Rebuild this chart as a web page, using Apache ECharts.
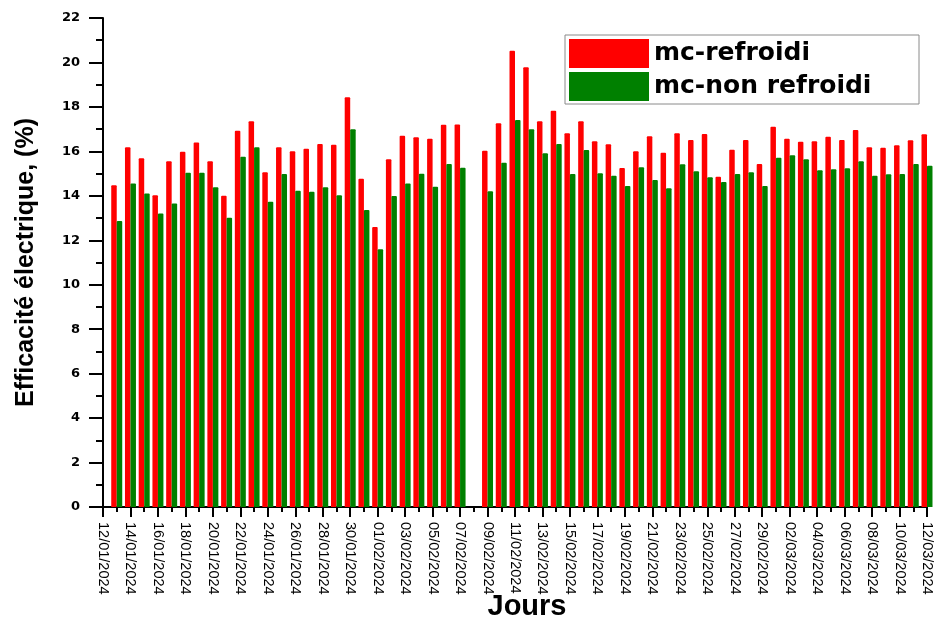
<!DOCTYPE html>
<html>
<head>
<meta charset="utf-8">
<script src="https://cdn.jsdelivr.net/npm/echarts@6/dist/echarts.min.js"></script>
<style>
  html, body { margin: 0; padding: 0; background: #ffffff; }
  #chart { width: 936px; height: 618px; }
</style>
</head>
<body>
<div id="chart"></div>
<script>
// Daily dates (12/01/2024 to 12/03/2024)
const days = [
  '12/01/2024','13/01/2024','14/01/2024','15/01/2024','16/01/2024','17/01/2024','18/01/2024','19/01/2024','20/01/2024','21/01/2024',
  '22/01/2024','23/01/2024','24/01/2024','25/01/2024','26/01/2024','27/01/2024','28/01/2024','29/01/2024','30/01/2024','31/01/2024',
  '01/02/2024','02/02/2024','03/02/2024','04/02/2024','05/02/2024','06/02/2024','07/02/2024','08/02/2024','09/02/2024','10/02/2024',
  '11/02/2024','12/02/2024','13/02/2024','14/02/2024','15/02/2024','16/02/2024','17/02/2024','18/02/2024','19/02/2024','20/02/2024',
  '21/02/2024','22/02/2024','23/02/2024','24/02/2024','25/02/2024','26/02/2024','27/02/2024','28/02/2024','29/02/2024',
  '01/03/2024','02/03/2024','03/03/2024','04/03/2024','05/03/2024','06/03/2024','07/03/2024','08/03/2024','09/03/2024','10/03/2024',
  '11/03/2024','12/03/2024'
];

// Electrical efficiency (%) of the cooled module
const mcRefroidi = [
  null, 14.47, 16.18, 15.69, 14.02, 15.56, 15.98, 16.40, 15.55, 14.00,
  16.93, 17.35, 15.06, 16.19, 16.01, 16.12, 16.33, 16.30, 18.44, 14.77,
  12.60, 15.65, 16.70, 16.63, 16.57, 17.20, 17.21, null, 16.03, 17.27,
  20.53, 19.78, 17.36, 17.83, 16.82, 17.36, 16.46, 16.32, 15.25, 16.01,
  16.68, 15.94, 16.81, 16.51, 16.78, 14.86, 16.07, 16.51, 15.43,
  17.11, 16.57, 16.43, 16.46, 16.66, 16.51, 16.96, 16.19, 16.16, 16.28,
  16.50, 16.77
];

// Electrical efficiency (%) of the uncooled module
const mcNonRefroidi = [
  null, 12.87, 14.55, 14.10, 13.20, 13.66, 15.04, 15.04, 14.38, 13.01,
  15.76, 16.18, 13.73, 14.98, 14.23, 14.18, 14.39, 14.02, 16.99, 13.36,
  11.60, 13.99, 14.55, 14.99, 14.41, 15.43, 15.26, null, 14.21, 15.49,
  17.41, 16.99, 15.91, 16.33, 14.98, 16.06, 15.01, 14.90, 14.44, 15.28,
  14.71, 14.34, 15.42, 15.11, 14.83, 14.62, 14.98, 15.06, 14.44,
  15.71, 15.82, 15.65, 15.15, 15.20, 15.24, 15.55, 14.90, 14.97, 14.98,
  15.43, 15.35
];

const seriesNames = ['mc-refroidi', 'mc-non refroidi'];
const yTicks = { min: 0, max: 22, interval: 2 };

// Size the legend box to a fixed width whatever the text width is
const legendFont = 'bold 25px "DejaVu Sans"';
const measure = document.createElement('canvas').getContext('2d');
measure.font = legendFont;
const legendTextW = Math.max.apply(null, seriesNames.map(function (s) { return measure.measureText(s).width; }));
const legendPadRight = Math.max(4, 354 - 4 - 80 - 5 - legendTextW);

const chart = echarts.init(document.getElementById('chart'), null, { renderer: 'canvas' });

const axisFont = '"Liberation Sans", Arial, sans-serif';

chart.setOption({
  animation: false,
  backgroundColor: '#ffffff',
  grid: { left: 103, right: 9, top: 18, bottom: 111, containLabel: false, outerBoundsMode: 'none' },
  legend: {
    orient: 'vertical',
    left: 565,
    top: 35,
    data: seriesNames,
    icon: 'rect',
    itemWidth: 80,
    itemHeight: 29,
    itemGap: 4,
    padding: [4, legendPadRight, 3, 4],
    backgroundColor: '#ffffff',
    borderColor: '#8a8a8a',
    borderWidth: 1,
    borderRadius: 0,
    selectedMode: false,
    textStyle: { fontFamily: 'DejaVu Sans', fontWeight: 'bold', fontSize: 25, color: '#000000' }
  },
  xAxis: [
    {
      type: 'category',
      data: days,
      boundaryGap: false,
      position: 'bottom',
      name: 'Jours',
      nameLocation: 'middle',
      nameGap: 85,
      nameMoveOverlap: false,
      nameTextStyle: { fontFamily: axisFont, fontWeight: 'bold', fontSize: 29, color: '#000000', padding: [0, 0, 0, 24] },
      axisLine: { show: true, lineStyle: { color: '#000000', width: 2 } },
      axisTick: { show: true, interval: 1, length: 10, lineStyle: { color: '#000000', width: 2 } },
      axisLabel: { interval: 1, rotate: -90, margin: 15, fontFamily: axisFont, fontSize: 14.5, color: '#000000' },
      splitLine: { show: false }
    },
    {
      type: 'category',
      data: days,
      boundaryGap: false,
      position: 'bottom',
      axisLine: { show: false },
      axisTick: { show: true, interval: 0, length: 5, lineStyle: { color: '#000000', width: 2 } },
      axisLabel: { show: false },
      splitLine: { show: false }
    }
  ],
  yAxis: {
    type: 'value',
    min: yTicks.min,
    max: yTicks.max,
    interval: yTicks.interval,
    name: 'Efficacité électrique, (%)',
    nameLocation: 'middle',
    nameRotate: 90,
    nameGap: 64,
    nameMoveOverlap: false,
    nameTextStyle: { fontFamily: axisFont, fontWeight: 'bold', fontSize: 25, color: '#000000' },
    axisLine: { show: true, lineStyle: { color: '#000000', width: 2 } },
    axisTick: { show: true, length: 14, lineStyle: { color: '#000000', width: 2 } },
    minorTick: { show: true, splitNumber: 2, length: 7, lineStyle: { color: '#000000', width: 2 } },
    axisLabel: { margin: 23, fontFamily: 'DejaVu Sans', fontWeight: 'bold', fontSize: 13, color: '#000000' },
    splitLine: { show: false },
    minorSplitLine: { show: false }
  },
  series: [
    {
      name: seriesNames[0],
      type: 'bar',
      xAxisIndex: 0,
      data: mcRefroidi,
      barGap: '0%',
      barCategoryGap: '20%',
      clip: false,
      itemStyle: { color: '#ff0000', borderRadius: [1, 1, 0, 0] }
    },
    {
      name: seriesNames[1],
      type: 'bar',
      xAxisIndex: 0,
      data: mcNonRefroidi,
      barGap: '0%',
      barCategoryGap: '20%',
      clip: false,
      itemStyle: { color: '#008000', borderRadius: [1, 1, 0, 0] }
    }
  ]
});
</script>
</body>
</html>
